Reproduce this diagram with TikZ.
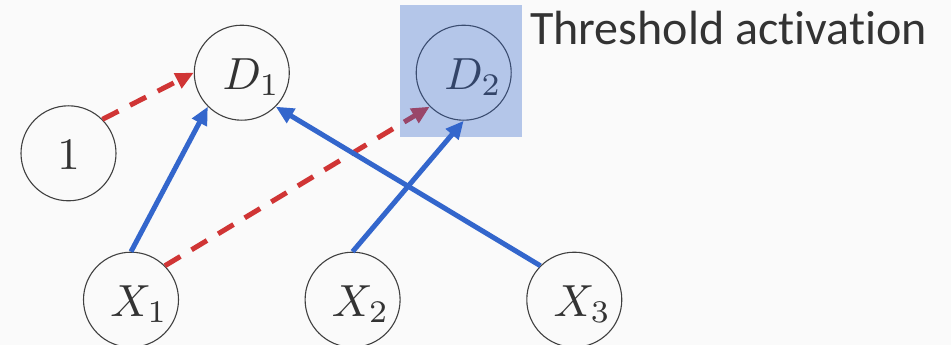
\documentclass[tikz,border=0pt]{standalone}
\usepackage{fontspec}
\usepackage{graphicx}
\newfontfamily\carlito[Ligatures={NoCommon}]{Carlito}
\usetikzlibrary{arrows.meta}
\definecolor{bgc}{HTML}{FAFAFA}
\definecolor{lineblue}{HTML}{3366CC}
\definecolor{linered}{HTML}{D03535}
\definecolor{inkc}{HTML}{333333}
\definecolor{circc}{HTML}{404040}
\newcommand{\biglab}[1]{\scalebox{4.5}{$#1$}}
\begin{document}
\begin{tikzpicture}[x=1pt,y=-1pt,
  neuron/.style={circle,draw=circc,line width=1.1pt,minimum size=95pt,inner sep=0pt,
    text=inkc,text height=33pt,text depth=0pt},
  solidarrow/.style={draw=lineblue,line width=5pt,-{Triangle[length=18pt,width=16pt]}},
  dashedarrow/.style={draw=linered,line width=5pt,dash pattern=on 18pt off 13pt,
    -{Triangle[length=18pt,width=16pt]}},
  titletext/.style={anchor=base west,inner sep=0pt,text=inkc,font=\carlito\fontsize{48}{58}\selectfont}
]
\useasboundingbox (0,0) rectangle (951,345);
\fill[bgc] (0,0) rectangle (951,345);

\node[neuron] (one) at (68.5,153.3) {\biglab{1}};
\node[neuron] (d1) at (241.8,72.7) {\hspace*{19pt}\biglab{D_1}};
\node[neuron] (d2) at (463.7,72.7) {\hspace*{19pt}\biglab{D_2}};
\node[neuron] (x1) at (131,299.7) {\hspace*{16pt}\biglab{X_1}};
\node[neuron] (x2) at (352.6,299.7) {\hspace*{16pt}\biglab{X_2}};
\node[neuron] (x3) at (574.3,299.7) {\hspace*{16pt}\biglab{X_3}};

\draw[dashedarrow] (one.north east) -- (d1.west);
\draw[solidarrow] (x1.north) -- (d1.south west);
\draw[dashedarrow] (x1.north east) -- (d2.south west);
\draw[solidarrow] (x2.north) -- (d2.south);
\draw[solidarrow] (x3.north west) -- (d1.south east);

\fill[lineblue,opacity=0.35] (400,5) rectangle (522,136.7);

\node[titletext] (title) at (530,44.3) {Threshold activation};
\end{tikzpicture}
\end{document}
